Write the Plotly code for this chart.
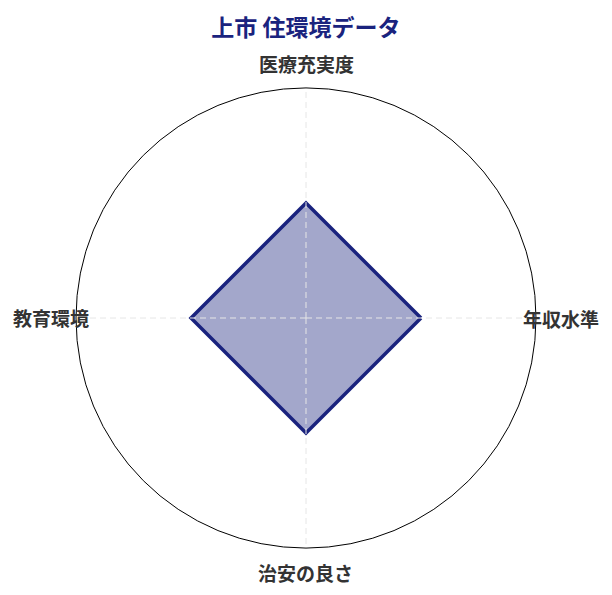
import math
import plotly.graph_objects as go

categories = ["年収水準", "医療充実度", "教育環境", "治安の良さ"]
values = [50, 50, 50, 50]
r_max = 100
title_text = "上市 住環境データ"

navy = "#1a237e"
font = "Noto Sans CJK JP"

fig = go.Figure()
fig.add_trace(go.Scatterpolar(
    r=values + values[:1],
    theta=categories + categories[:1],
    mode="lines",
    fill="toself",
    fillcolor="rgba(26,35,126,0.4)",
    line=dict(color=navy, width=3.5),
    hoverinfo="skip",
))

# dashed spokes drawn over the filled area (plotly keeps its grid under traces)
for cat in categories:
    fig.add_trace(go.Scatterpolar(
        r=[0, r_max], theta=[cat, cat], mode="lines",
        line=dict(color="#e6e6e6", width=1, dash="6px,4px"),
        hoverinfo="skip",
    ))

# category labels sit just outside the circle, a bit overlapping it like the original
annotations = []
for i, cat in enumerate(categories):
    a = math.radians(90 * i)
    annotations.append(dict(
        x=0.5 + 0.554 * math.cos(a), y=0.5 + 0.553 * math.sin(a),
        xref="paper", yref="paper", text=f"<b>{cat}</b>", showarrow=False,
        font=dict(family=font, size=19, color="#333333"),
        xanchor="center", yanchor="middle",
    ))

fig.update_layout(
    width=612, height=595,
    margin=dict(l=68, r=84, t=80, b=55),
    paper_bgcolor="white",
    showlegend=False,
    title=dict(text=f"<b>{title_text}</b>", x=0.4869, xanchor="center", y=0.966, yanchor="middle",
               font=dict(family=font, size=23, color=navy)),
    annotations=annotations,
    polar=dict(
        domain=dict(x=[0, 1], y=[0, 1]),
        bgcolor="white",
        radialaxis=dict(range=[0, r_max], visible=True, showticklabels=False, ticks="",
                        showgrid=False, showline=False),
        angularaxis=dict(direction="counterclockwise", rotation=0, showticklabels=False, ticks="",
                         showline=True, linecolor="black", linewidth=1, showgrid=False),
    ),
)

fig.write_html("out.html")
